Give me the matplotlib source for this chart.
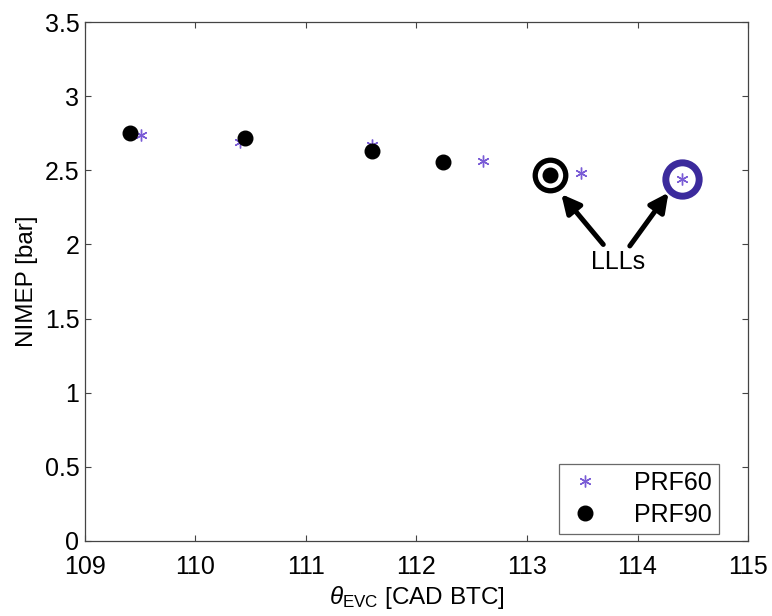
import matplotlib
matplotlib.use("Agg")
import matplotlib.pyplot as plt

plt.rcParams['font.family'] = ['Liberation Sans', 'DejaVu Sans']
plt.rcParams['mathtext.fontset'] = 'custom'
plt.rcParams['mathtext.rm'] = 'Liberation Sans'
plt.rcParams['mathtext.it'] = 'Liberation Sans:italic'

# data
prf60_x = [109.51, 110.40, 111.60, 112.60, 113.49, 114.40]
prf60_y = [2.74, 2.69, 2.67, 2.56, 2.48, 2.44]
prf90_x = [109.41, 110.45, 111.60, 112.24, 113.21]
prf90_y = [2.75, 2.72, 2.63, 2.555, 2.467]

# the two LLL points that get ringed
lll60 = (114.40, 2.44)
lll90 = (113.21, 2.467)

star_col = '#7a5cd6'
ring_col = '#3b2a9c'

fig = plt.figure(figsize=(7.72, 6.16), dpi=100)
ax = fig.add_axes([0.110, 0.122, 0.859, 0.842])

ax.plot(prf60_x, prf60_y, linestyle='none', marker=(6, 2, 0), markersize=8.5,
        markeredgewidth=1.0, color=star_col, label='PRF60')
ax.plot(prf90_x, prf90_y, linestyle='none', marker='o', markersize=10.5,
        color='black', label='PRF90')

# rings around LLL cases
ax.plot(*lll90, marker='o', markersize=22, markerfacecolor='none',
        markeredgecolor='black', markeredgewidth=3.8)
ax.plot(*lll60, marker='o', markersize=24, markerfacecolor='none',
        markeredgecolor=ring_col, markeredgewidth=5)

ax.text(113.82, 1.88, 'LLLs', fontsize=18, ha='center', va='center')
arrow = dict(arrowstyle='-|>', lw=3.6, color='black', mutation_scale=28,
             shrinkA=0, shrinkB=0)
ax.annotate('', xy=(113.31, 2.34), xytext=(113.69, 2.00), arrowprops=arrow)
ax.annotate('', xy=(114.28, 2.35), xytext=(113.93, 1.99), arrowprops=arrow)

ax.set_xlim(109, 115)
ax.set_ylim(0, 3.5)
ax.set_xticks(range(109, 116))
ax.set_yticks([0, 0.5, 1, 1.5, 2, 2.5, 3, 3.5])
ax.set_yticklabels(['0', '0.5', '1', '1.5', '2', '2.5', '3', '3.5'])
ax.tick_params(direction='in', length=4, width=0.8, labelsize=18,
               top=True, right=True, color='#444444')
ax.tick_params(axis='x', pad=10)
ax.tick_params(axis='y', pad=4)
for s in ax.spines.values():
    s.set_color('#444444')
    s.set_linewidth(0.9)

ax.set_xlabel(r'$\theta_{\mathrm{EVC}}$ [CAD BTC]', fontsize=17.5, labelpad=4)
ax.set_ylabel('NIMEP [bar]', fontsize=17.5, labelpad=5)

leg = ax.legend(loc='lower right', bbox_to_anchor=(0.956, 0.013),
                borderaxespad=0, fontsize=18, fancybox=False,
                edgecolor='#444444', markerfirst=True, handletextpad=1.2,
                borderpad=0.3, labelspacing=0.3, handlelength=1.5)
leg.get_frame().set_linewidth(0.9)

fig.savefig('out.png', dpi=100)
